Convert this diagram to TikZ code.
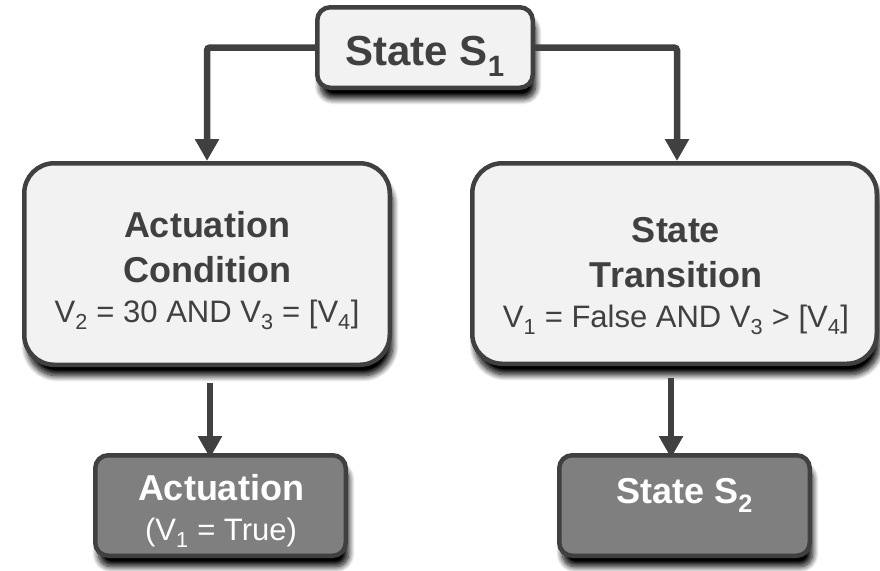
\documentclass[tikz,border=0pt]{standalone}
\usepackage{fontspec}
\setmainfont{Liberation Sans}
\usetikzlibrary{arrows.meta,shadows.blur}
\definecolor{edgegray}{HTML}{404040}
\definecolor{lightfill}{HTML}{F2F2F2}
\definecolor{darkfill}{HTML}{7F7F7F}
\begin{document}
\begin{tikzpicture}[x=1pt,y=-1pt,
  box/.style={draw=edgegray, line width=4.5pt, fill=lightfill, inner sep=0pt,
    blur shadow={shadow xshift=3pt, shadow yshift=-11pt, shadow blur radius=6pt, shadow opacity=100, shadow blur steps=12}},
  bigbox/.style={box, rounded corners=30pt},
  smallbox/.style={box, rounded corners=13pt},
  darkbox/.style={smallbox, fill=darkfill},
  conn/.style={draw=edgegray, line width=6.5pt, rounded corners=3pt, -{Triangle[width=23pt,length=22pt]}},
  boldtxt/.style={text=edgegray, font=\fontsize{36}{45}\selectfont\bfseries, align=center, inner sep=0pt},
  whitetxt/.style={boldtxt, text=white}
]
\useasboundingbox (0,0) rectangle (880,570);

% boxes
\node[smallbox, minimum width=215.5pt, minimum height=80.5pt, text=edgegray,
      font=\fontsize{42}{50}\selectfont\bfseries, text height=35pt, text depth=0pt]
      (s1) at (425,47.5) {State S\textsubscript{1}};
\node[bigbox, minimum width=365.5pt, minimum height=201.5pt] (ac) at (207,264) {};
\node[bigbox, minimum width=404.5pt, minimum height=200.5pt] (tr) at (674.5,263.5) {};
\node[darkbox, minimum width=250.5pt, minimum height=100.5pt] (act) at (220.5,505.5) {};
\node[darkbox, minimum width=250.5pt, minimum height=100.5pt, text=white,
      font=\fontsize{36}{45}\selectfont\bfseries, text height=26pt, text depth=31pt]
      (s2) at (684.5,505.5) {State S\textsubscript{2}};

% texts
\node[boldtxt, anchor=north] (actxt) at (207,211.5)
  {Actuation\\Condition\\[-5pt]{\fontsize{31}{45}\selectfont\mdseries V\textsubscript{2} = 30 AND V\textsubscript{3} = [V\textsubscript{4}]}};
\node[boldtxt, anchor=north] (trtxt) at (676,217.5)
  {State\\Transition\\[-5pt]{\fontsize{31}{45}\selectfont\mdseries V\textsubscript{1} = False AND V\textsubscript{3} > [V\textsubscript{4}]}};
\node[whitetxt, anchor=north] (acttxt) at (221,474.5)
  {Actuation\\[-5pt]{\fontsize{31}{45}\selectfont\mdseries (V\textsubscript{1} = True)}};

% connectors
\coordinate (rtop) at ([xshift=2.5pt]tr.north);
\coordinate (lbot) at ([xshift=3pt]ac.south);
\coordinate (rbot) at ([xshift=-3.5pt]tr.south);
\draw[conn] (s1.west) -| (ac.north);
\draw[conn] (s1.east) -| (rtop);
\draw[conn, shorten <=16pt, shorten >=-5pt] (lbot) -- (lbot |- act.north);
\draw[conn, shorten <=12pt, shorten >=-5pt] (rbot) -- (rbot |- s2.north);
\end{tikzpicture}
\end{document}
